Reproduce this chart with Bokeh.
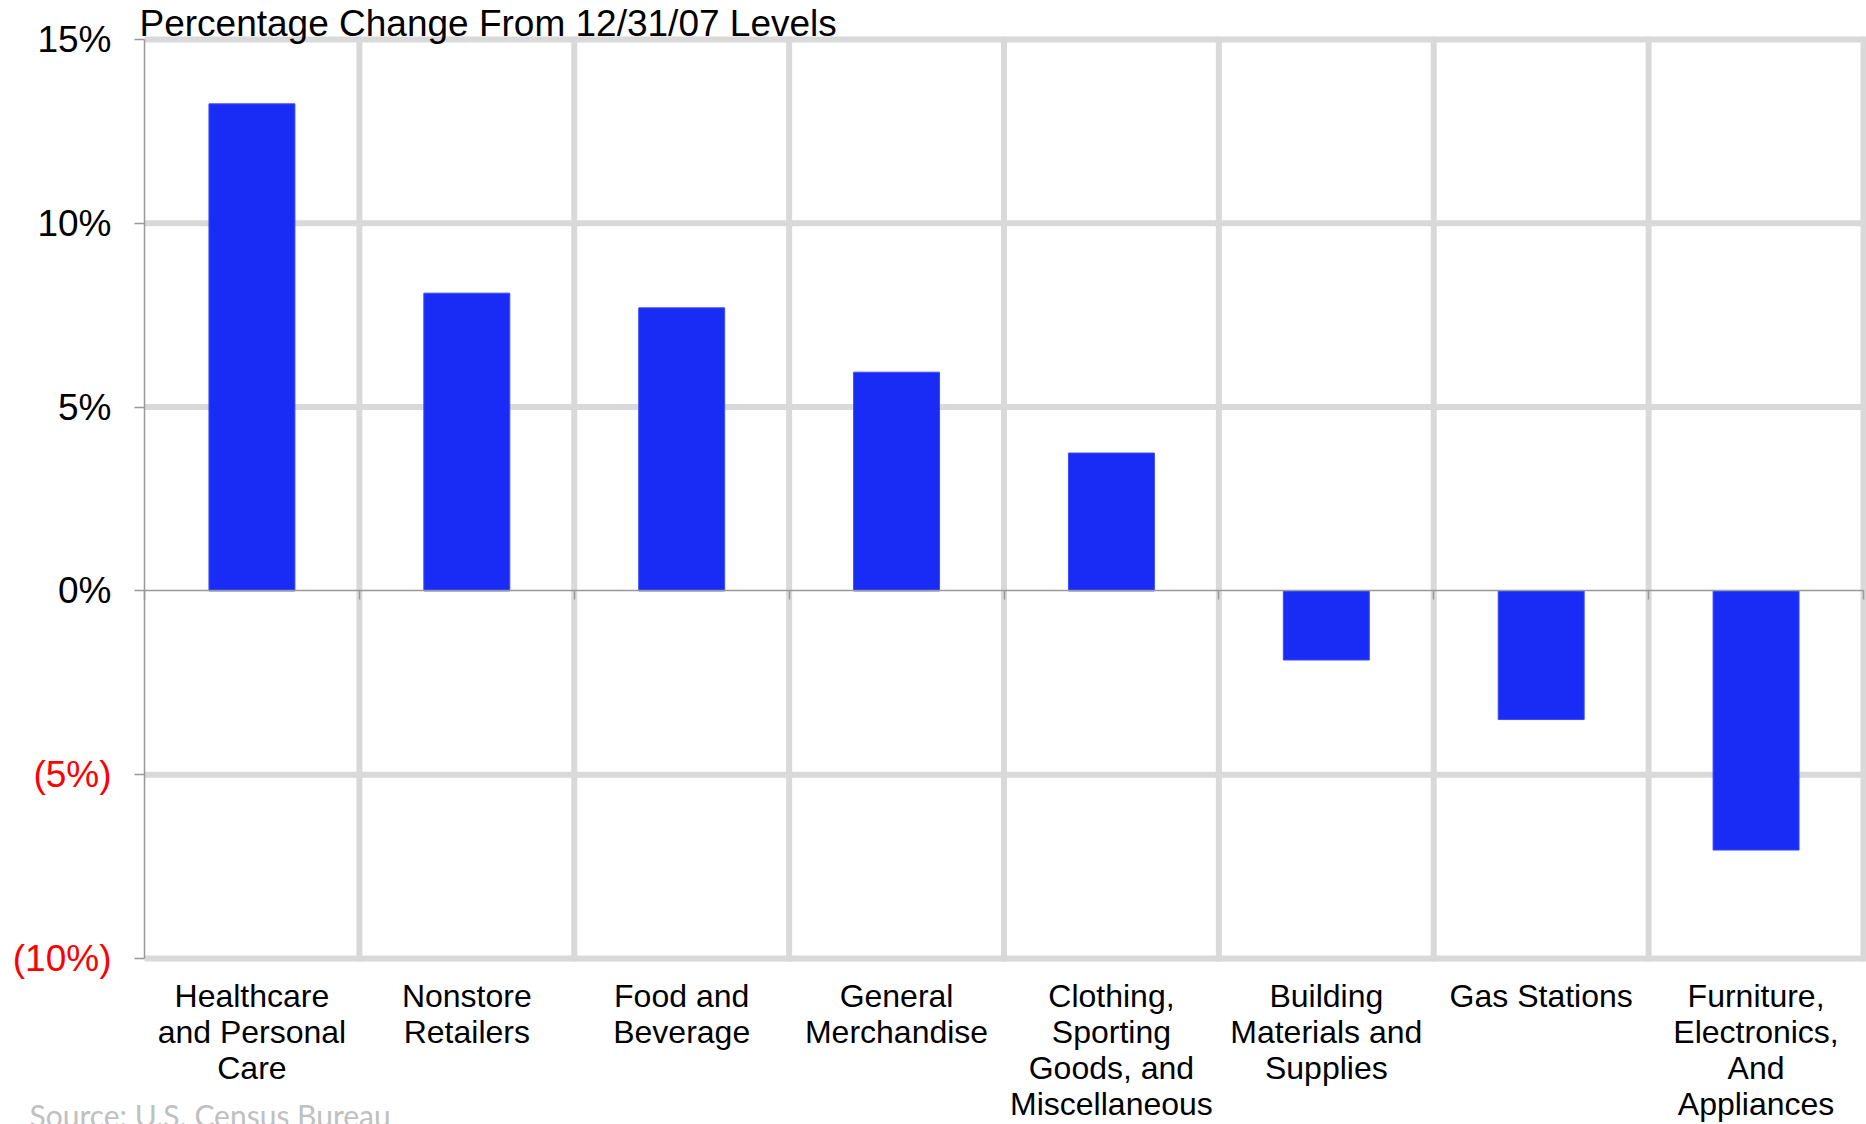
from bokeh.plotting import figure
from bokeh.models import Range1d, FixedTicker, LinearAxis, ColumnDataSource
from bokeh.core.properties import value
from bokeh.embed import file_html
from bokeh.resources import INLINE

categories = [
    "Healthcare\nand Personal\nCare",
    "Nonstore\nRetailers",
    "Food and\nBeverage",
    "General\nMerchandise",
    "Clothing,\nSporting\nGoods, and\nMiscellaneous",
    "Building\nMaterials and\nSupplies",
    "Gas Stations",
    "Furniture,\nElectronics,\nAnd\nAppliances",
]
changes = [13.25, 8.1, 7.7, 5.95, 3.75, -1.88, -3.5, -7.05]
y_ticks = [-10, -5, 0, 5, 10, 15]
y_tick_labels = ["(10%)", "(5%)", "0%", "5%", "10%", "15%"]
title_text = "Percentage Change From 12/31/07 Levels"
source_text = "Source: U.S. Census Bureau"

FONT = "Liberation Sans"
BAR = "#182cf6"
GRID = "#d9d9d9"
AXIS = "#999999"

n = len(categories)
centers = [i + 0.5 for i in range(n)]
bounds = [float(i) for i in range(n + 1)]
ymin, ymax = y_ticks[0], y_ticks[-1]

# pixel layout of the plotting area
W, H = 1866, 1124
PX_LEFT, PX_RIGHT = 144, 1863       # x = 0 and x = n
PX_TOP, PX_BOTTOM = 39, 958         # y = ymax and y = ymin
FL, FT = 11, 6                      # frame origin on canvas
ux = (PX_RIGHT - PX_LEFT) / n
uy = (PX_BOTTOM - PX_TOP) / (ymax - ymin)

x_range = Range1d(0 - (PX_LEFT - FL) / ux, n + (W - PX_RIGHT) / ux)
y_range = Range1d(ymin - (H - PX_BOTTOM) / uy, ymax + (PX_TOP - FT) / uy)

p = figure(output_backend="svg", toolbar_location=None,
           frame_width=W - FL, frame_height=H - FT,
           x_range=x_range, y_range=y_range,
           x_axis_location=None, y_axis_location=None)
p.min_border_left = FL
p.min_border_right = 0
p.min_border_top = FT
p.min_border_bottom = 0
p.outline_line_color = None
p.background_fill_color = "white"
p.border_fill_color = "white"
p.xgrid.visible = False
p.ygrid.visible = False

# grid lines
hy = [t for t in y_ticks if t != 0]
p.segment(x0=[0] * len(hy), x1=[n] * len(hy), y0=hy, y1=hy,
          line_color=GRID, line_width=6)
vx = bounds[1:]
p.segment(x0=vx, x1=vx, y0=[ymin] * len(vx), y1=[ymax] * len(vx),
          line_color=GRID, line_width=6, line_cap="square")

# bars
src = ColumnDataSource(dict(x=centers, top=changes))
p.vbar(x="x", top="top", bottom=0, width=0.4, source=src,
       fill_color=BAR, line_color="#3a4cf8", line_width=1)

# y axis (line + ticks)
yaxis = LinearAxis(ticker=FixedTicker(ticks=y_ticks), fixed_location=0, bounds=(ymin, ymax),
                   major_label_overrides={t: "" for t in y_ticks},
                   major_label_text_font_size="0px", major_label_standoff=0,
                   axis_line_color=AXIS, axis_line_width=1.5,
                   major_tick_line_color=AXIS, major_tick_line_width=1.5,
                   major_tick_out=10, major_tick_in=0, minor_tick_out=0, minor_tick_in=0)
p.add_layout(yaxis, "left")

# zero line with boundary ticks
zaxis = LinearAxis(ticker=FixedTicker(ticks=bounds), fixed_location=0, bounds=(0, n),
                   major_label_overrides={b: "" for b in bounds},
                   major_label_text_font_size="0px", major_label_standoff=0,
                   axis_line_color=AXIS, axis_line_width=1.5,
                   major_tick_line_color=AXIS, major_tick_line_width=1.5,
                   major_tick_out=0, major_tick_in=9, minor_tick_out=0, minor_tick_in=0)
p.add_layout(zaxis, "above")

# y tick labels
ysrc = ColumnDataSource(dict(y=y_ticks, text=y_tick_labels, x=[0] * len(y_ticks),
                             color=["#ff0000" if t < 0 else "#000000" for t in y_ticks]))
p.text(x="x", y="y", text="text", source=ysrc, x_offset=-33,
       text_align="right", text_baseline="middle", text_color="color",
       text_font=value(FONT), text_font_size="37px")

# category labels
csrc = ColumnDataSource(dict(x=centers, y=[ymin - 19 / uy] * n, text=categories))
p.text(x="x", y="y", text="text", source=csrc,
       text_align="center", text_baseline="top", text_line_height=1.0,
       text_color="#000000", text_font=value(FONT), text_font_size="32px")

# title
p.text(x=[0 - 5 / ux], y=[ymax + 16 / uy], text=[title_text],
       text_align="left", text_baseline="alphabetic", text_color="#000000",
       text_font=value(FONT), text_font_size="37px")

# source note
p.text(x=[0 - 115 / ux], y=[ymin - (1114 - PX_BOTTOM) / uy], text=[source_text],
       text_align="left", text_baseline="middle", text_color="#c0c0c0",
       text_font=value("Lato"), text_font_size="30px")

open("out.html", "w").write(file_html(p, INLINE))
